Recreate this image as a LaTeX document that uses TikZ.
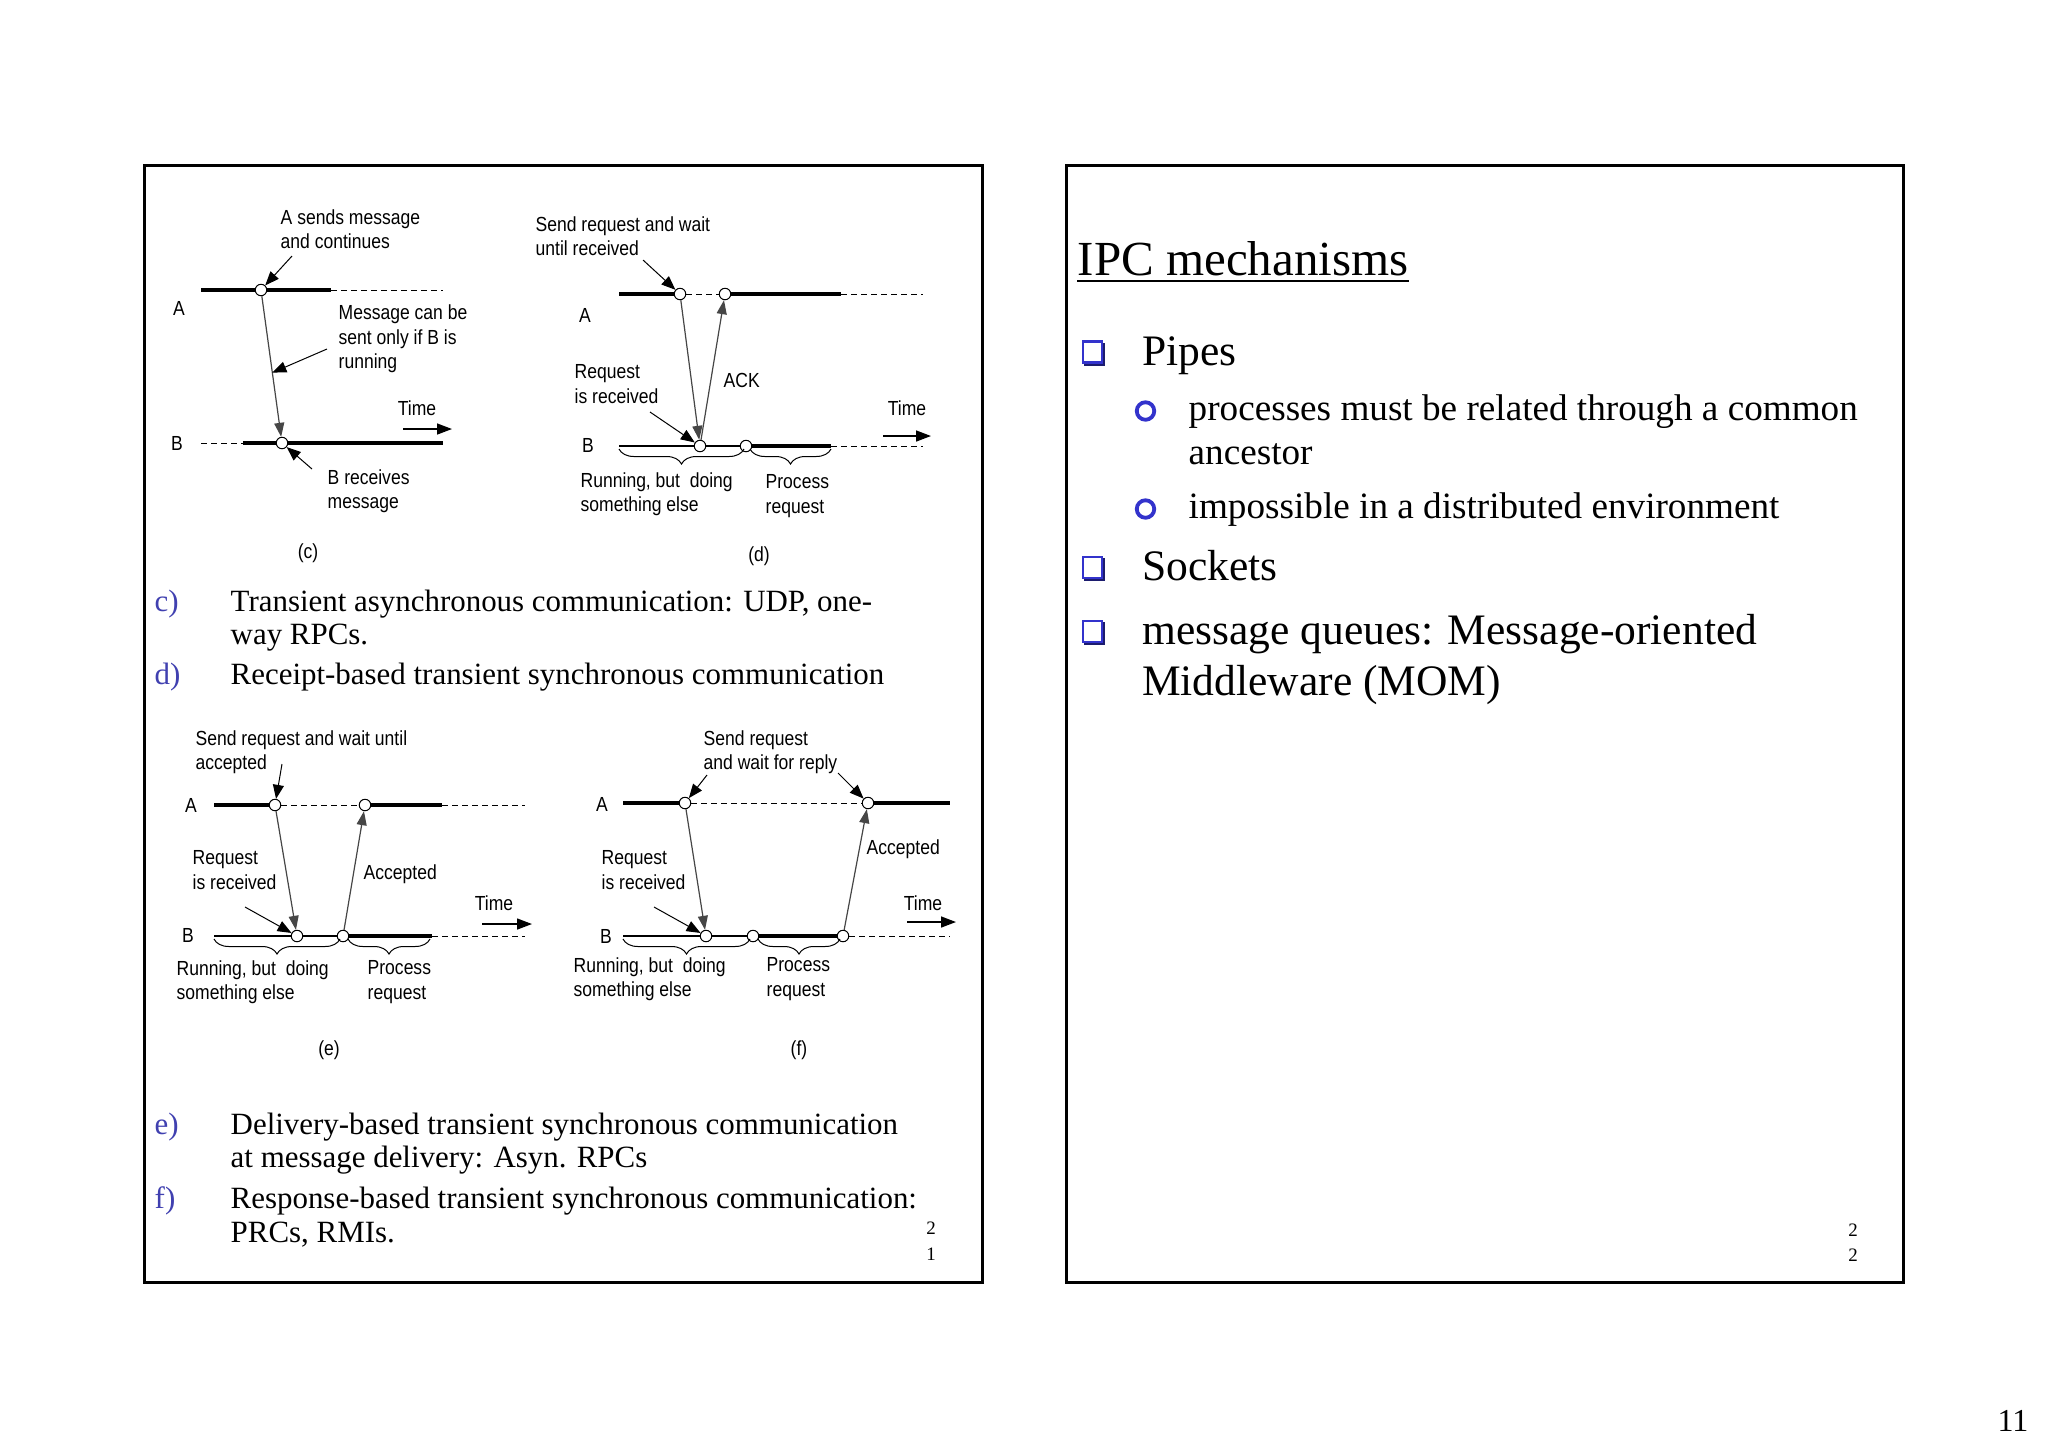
\documentclass[tikz,border=0pt]{standalone}
\usepackage{fontspec}
\setmainfont{Liberation Serif}
\newfontfamily\diagfam[FakeStretch=0.86]{Liberation Sans}
\usepackage{xcolor}
\definecolor{itemblue}{RGB}{51,51,204}
\definecolor{markblue}{RGB}{64,64,176}
\definecolor{shadeblue}{RGB}{28,28,110}
\definecolor{msggray}{RGB}{70,70,70}
\newcommand\lblfont{\diagfam\fontsize{5.8}{6.94}\selectfont}
\newcommand\txtfont{\fontsize{8.8}{9.4}\selectfont}
\newcommand\ttlfont{\fontsize{13.94}{16}\selectfont}
\newcommand\bulfont{\fontsize{12.38}{14}\selectfont}
\newcommand\subtxtfont{\fontsize{10.58}{12}\selectfont}
\newcommand\slnfont{\fontsize{5.4}{6}\selectfont}
\newcommand\pgnfont{\fontsize{9.1}{10}\selectfont}
\usepackage{tikz}
\usetikzlibrary{arrows.meta,decorations.pathreplacing,calc}

\begin{document}
\begin{tikzpicture}[x=0.1mm,y=-0.1mm,
slideframe/.style={draw=black,line width=0.3mm},
proc/.style={line width=0.45mm},
idle/.style={line width=0.2mm},
wait/.style={line width=0.1mm,dash pattern=on 0.6mm off 0.4mm},
evt/.style={circle,draw,fill=white,line width=0.1mm,minimum size=1.15mm,inner sep=0pt},
msg/.style={-{Triangle[length=1.4mm,width=1mm]},line width=0.12mm,draw=msggray},
lead/.style={-{Triangle[length=1.4mm,width=1.1mm]},line width=0.1mm},
timeline/.style={-{Triangle[length=1.5mm,width=1.1mm]},line width=0.15mm},
brc/.style={decorate,decoration={brace,mirror,amplitude=1.5mm},line width=0.1mm},
lbl/.style={font=\lblfont,inner sep=0pt,anchor=west,align=left},
pname/.style={font=\lblfont,inner sep=0pt},
txt/.style={font=\txtfont,inner sep=0pt,anchor=base west},
itemlbl/.style={txt,text=markblue},
sqbul/.style={rectangle,draw=itemblue,line width=0.28mm,fill=white,minimum width=1.9mm,minimum height=2.1mm,inner sep=0pt},
sqshade/.style={rectangle,fill=shadeblue,minimum width=2.1mm,minimum height=2.3mm,inner sep=0pt},
cbul/.style={circle,draw=itemblue,line width=0.38mm,minimum size=1.75mm,inner sep=0pt},
slnum/.style={font=\slnfont,inner sep=0pt}]
\fill[white] (0,0) rectangle (2048,1447);
\useasboundingbox (0,0) rectangle (2048,1447);
% slide frames
\draw[slideframe] (144,165) rectangle (982,1282);
\draw[slideframe] (1066,165) rectangle (1903,1282);

% (c) asynchronous
\node[pname] (cAl) at (179,308) {A};
\node[pname] (cBl) at (177,443) {B};
\coordinate (cA0) at (201,290);
\node[evt] (cA) at (261,290) {};
\coordinate (cA1) at (331,290);
\coordinate (cA2) at (443,290);
\coordinate (cB0) at (201,443);
\coordinate (cB1) at (243,443);
\node[evt] (cB) at (282,443) {};
\coordinate (cB2) at (443,443);
\draw[proc] (cA0)--(cA); \draw[proc] (cA)--(cA1); \draw[wait] (cA1)--(cA2);
\draw[wait] (cB0)--(cB1); \draw[proc] (cB1)--(cB); \draw[proc] (cB)--(cB2);
\draw[msg] (cA)--(cB);
\node[lbl] (cSend) at (280,229.5) {A sends message\\and continues};
\coordinate (cSendT) at (292,256);
\draw[lead] (cSendT)--(cA);
\node[lbl] (cOnly) at (338,339) {Message can be\\sent only if B is\\running};
\coordinate (cOnlyT) at (327,349);
\coordinate (cMsgPt) at ($(cA)!0.54!(cB)$);
\draw[lead] (cOnlyT)--(cMsgPt);
\node[lbl] (cRecv) at (327,491) {B receives\\message};
\coordinate (cRecvT) at (312,469);
\draw[lead] (cRecvT)--(cB);
\node[pname] (cTime) at (417,408) {Time};
\coordinate (cT0) at (403,429); \coordinate (cT1) at (452,429);
\draw[timeline] (cT0)--(cT1);
\node[pname] (cCap) at (308,553) {(c)};

% (d) receipt-based
\node[pname] (dAl) at (585,315) {A};
\node[pname] (dBl) at (588,445) {B};
\coordinate (dA0) at (619,294);
\node[evt] (dA1) at (680,294) {};
\node[evt] (dA2) at (725,294) {};
\coordinate (dA3) at (841,294);
\coordinate (dA4) at (923,294);
\coordinate (dB0) at (619,446);
\node[evt] (dB1) at (700,446) {};
\node[evt] (dB2) at (746,446) {};
\coordinate (dB3) at (831,446);
\coordinate (dB4) at (923,446);
\draw[proc] (dA0)--(dA1); \draw[wait] (dA1)--(dA2); \draw[proc] (dA2)--(dA3); \draw[wait] (dA3)--(dA4);
\draw[idle] (dB0)--(dB1); \draw[idle] (dB1)--(dB2); \draw[proc] (dB2)--(dB3); \draw[wait] (dB3)--(dB4);
\draw[msg] (dA1)--(dB1);
\draw[msg] (dB1)--(dA2);
\node[lbl] (dSend) at (535,236) {Send request and wait\\until received};
\coordinate (dSendT) at (643,260);
\draw[lead] (dSendT)--(dA1);
\node[lbl] (dReq) at (574,384) {Request\\is received};
\coordinate (dReqT) at (650,412);
\draw[lead] (dReqT)--(dB1);
\node[lbl] (dAck) at (723,380) {ACK};
\node[pname] (dTime) at (907,408) {Time};
\coordinate (dT0) at (883,436); \coordinate (dT1) at (931,436);
\draw[timeline] (dT0)--(dT1);
\coordinate (dR0) at (619,449); \coordinate (dR1) at (744,449);
\coordinate (dP0) at (750,449); \coordinate (dP1) at (831,449);
\draw[brc] (dR0)--(dR1); \draw[brc] (dP0)--(dP1);
\node[lbl] (dRun) at (580,494) {Running, but\ \ doing\\something else};
\node[lbl] (dProc) at (765,496) {Process\\request};
\node[pname] (dCap) at (759,556) {(d)};

% (e) delivery-based
\node[pname] (eAl) at (191,805) {A};
\node[pname] (eBl) at (188,935) {B};
\coordinate (eA0) at (214,805);
\node[evt] (eA1) at (275,805) {};
\node[evt] (eA2) at (365,805) {};
\coordinate (eA3) at (442,805);
\coordinate (eA4) at (525,805);
\coordinate (eB0) at (214,936);
\node[evt] (eB1) at (297,936) {};
\node[evt] (eB2) at (343,936) {};
\coordinate (eB3) at (432,936);
\coordinate (eB4) at (525,936);
\draw[proc] (eA0)--(eA1); \draw[wait] (eA1)--(eA2); \draw[proc] (eA2)--(eA3); \draw[wait] (eA3)--(eA4);
\draw[idle] (eB0)--(eB1); \draw[idle] (eB1)--(eB2); \draw[proc] (eB2)--(eB3); \draw[wait] (eB3)--(eB4);
\draw[msg] (eA1)--(eB1);
\draw[msg] (eB2)--(eA2);
\node[lbl] (eSend) at (195,752) {Send request and wait until\\accepted};
\coordinate (eSendT) at (282,764);
\draw[lead] (eSendT)--(eA1);
\node[lbl] (eReq) at (192,870) {Request\\is received};
\coordinate (eReqT) at (245,907);
\draw[lead] (eReqT)--(eB1);
\node[lbl] (eAcc) at (363,874) {Accepted};
\node[pname] (eTime) at (494,903) {Time};
\coordinate (eT0) at (482,924); \coordinate (eT1) at (532,924);
\draw[timeline] (eT0)--(eT1);
\coordinate (eR0) at (214,939); \coordinate (eR1) at (340,939);
\coordinate (eP0) at (348,939); \coordinate (eP1) at (430,939);
\draw[brc] (eR0)--(eR1); \draw[brc] (eP0)--(eP1);
\node[lbl] (eRun) at (176,982) {Running, but\ \ doing\\something else};
\node[lbl] (eProc) at (367,982) {Process\\request};
\node[pname] (eCap) at (329,1050) {(e)};

% (f) response-based
\node[pname] (fAl) at (602,804) {A};
\node[pname] (fBl) at (606,936) {B};
\coordinate (fA0) at (623,803);
\node[evt] (fA1) at (685,803) {};
\node[evt] (fA2) at (868,803) {};
\coordinate (fA3) at (950,803);
\coordinate (fB0) at (623,936);
\node[evt] (fB1) at (706,936) {};
\node[evt] (fB2) at (753,936) {};
\node[evt] (fB3) at (843,936) {};
\coordinate (fB4) at (950,936);
\draw[proc] (fA0)--(fA1); \draw[wait] (fA1)--(fA2); \draw[proc] (fA2)--(fA3);
\draw[idle] (fB0)--(fB1); \draw[idle] (fB1)--(fB2); \draw[proc] (fB2)--(fB3); \draw[wait] (fB3)--(fB4);
\draw[msg] (fA1)--(fB1);
\draw[msg] (fB3)--(fA2);
\node[lbl] (fSend) at (703,752) {Send request\\and wait for reply};
\coordinate (fSendT) at (707,775); \coordinate (fReplyT) at (838,773);
\draw[lead] (fSendT)--(fA1);
\draw[lead] (fReplyT)--(fA2);
\node[lbl] (fReq) at (601,870) {Request\\is received};
\coordinate (fReqT) at (654,907);
\draw[lead] (fReqT)--(fB1);
\node[lbl] (fAcc) at (866,849) {Accepted};
\node[pname] (fTime) at (923,903) {Time};
\coordinate (fT0) at (907,922); \coordinate (fT1) at (956,922);
\draw[timeline] (fT0)--(fT1);
\coordinate (fR0) at (623,939); \coordinate (fR1) at (750,939);
\coordinate (fP0) at (758,939); \coordinate (fP1) at (840,939);
\draw[brc] (fR0)--(fR1); \draw[brc] (fP0)--(fP1);
\node[lbl] (fRun) at (573,979) {Running, but\ \ doing\\something else};
\node[lbl] (fProc) at (766,979) {Process\\request};
\node[pname] (fCap) at (799,1050) {(f)};

% captions of the left slide
\node[itemlbl] (ic) at (154,611) {c)};
\node[txt] (tc1) at (230,611) {Transient asynchronous communication: UDP, one-};
\node[txt] (tc2) at (230,644) {way RPCs.};
\node[itemlbl] (id) at (154,684) {d)};
\node[txt] (td1) at (230,684) {Receipt-based transient synchronous communication};
\node[itemlbl] (ie) at (154,1134) {e)};
\node[txt] (te1) at (230,1134) {Delivery-based transient synchronous communication};
\node[txt] (te2) at (230,1167.5) {at message delivery: Asyn. RPCs};
\node[itemlbl] (if) at (154,1208) {f)};
\node[txt] (tf1) at (230,1208) {Response-based transient synchronous communication:};
\node[txt] (tf2) at (230,1242) {PRCs, RMIs.};
\node[slnum] (sl1a) at (931,1228) {2};
\node[slnum] (sl1b) at (931,1254) {1};

% right slide
\node[font=\ttlfont,inner sep=0pt,anchor=base west] (ttl) at (1077,275) {IPC mechanisms};
\draw[line width=0.2mm] ([yshift=-0.6mm]ttl.base west)--([yshift=-0.6mm]ttl.base east);
\foreach \yy/\nm in {352/bPipes,567.5/bSock,631.5/bQueue}{
  \node[sqshade] at (1094.5,\yy+2) {};
  \node[sqbul] (\nm) at (1092.5,\yy) {};
}
\foreach \yy/\nm in {411/bRel,509/bDist}
  \node[cbul] (\nm) at (1145.5,\yy) {};
\node[font=\bulfont,inner sep=0pt,anchor=base west] (tPipes) at (1141.5,365) {Pipes};
\node[font=\subtxtfont,inner sep=0pt,anchor=base west] (tRel1) at (1188,420) {processes must be related through a common};
\node[font=\subtxtfont,inner sep=0pt,anchor=base west] (tRel2) at (1188,464) {ancestor};
\node[font=\subtxtfont,inner sep=0pt,anchor=base west] (tDist) at (1188,518) {impossible in a distributed environment};
\node[font=\bulfont,inner sep=0pt,anchor=base west] (tSock) at (1141.5,580.5) {Sockets};
\node[font=\bulfont,inner sep=0pt,anchor=base west] (tQue1) at (1141.5,644.5) {message queues: Message-oriented};
\node[font=\bulfont,inner sep=0pt,anchor=base west] (tQue2) at (1141.5,695.5) {Middleware (MOM)};
\node[slnum] (sl2a) at (1853,1230) {2};
\node[slnum] (sl2b) at (1853,1255) {2};
\node[font=\pgnfont,inner sep=0pt] (pgno) at (2013,1421) {11};
\end{tikzpicture}
\end{document}
